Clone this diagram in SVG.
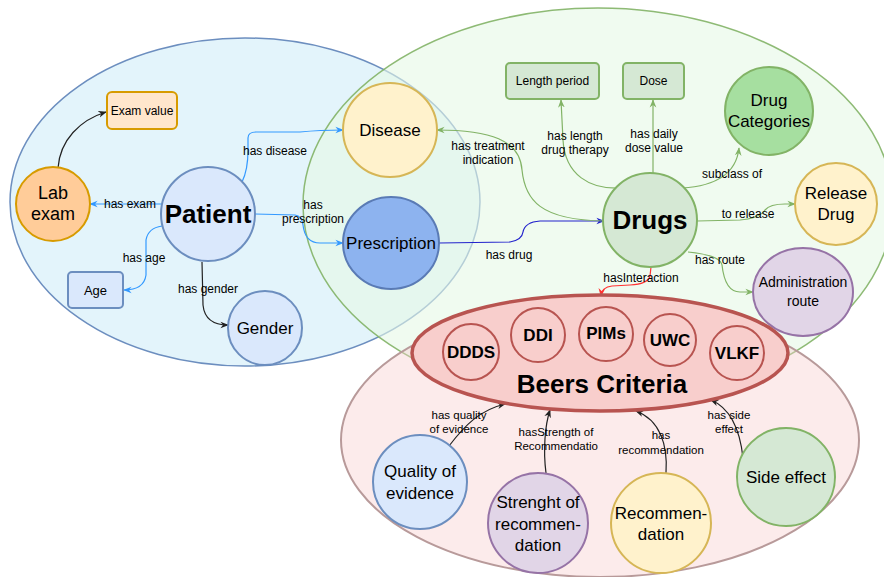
<svg xmlns="http://www.w3.org/2000/svg" width="884" height="577" viewBox="0 0 884 577">
<defs>
<style>
text{font-family:"Liberation Sans",Arial,sans-serif;fill:#000;text-anchor:middle;dominant-baseline:central}
.lbl{font-size:12px}
.sm{font-size:11.5px}
.n17{font-size:17px}
.c{fill:none;stroke-width:1.2}
.blue{stroke:#3399ff}
.green{stroke:#82b366}
.blk{stroke:#222}
.bi{font-weight:bold}
</style>
<marker id="ab" viewBox="0 0 10 10" refX="9" refY="5" markerWidth="7" markerHeight="7" orient="auto"><path d="M0,1 L10,5 L0,9 L3,5 Z" fill="#3399ff"/></marker>
<marker id="ag" viewBox="0 0 10 10" refX="9" refY="5" markerWidth="7" markerHeight="7" orient="auto"><path d="M0,1 L10,5 L0,9 L3,5 Z" fill="#82b366"/></marker>
<marker id="ak" viewBox="0 0 10 10" refX="9" refY="5" markerWidth="7" markerHeight="7" orient="auto"><path d="M0,1 L10,5 L0,9 L3,5 Z" fill="#222"/></marker>
<marker id="ad" viewBox="0 0 10 10" refX="9" refY="5" markerWidth="7" markerHeight="7" orient="auto"><path d="M0,1 L10,5 L0,9 L3,5 Z" fill="#2222cc"/></marker>
<marker id="ar" viewBox="0 0 10 10" refX="9" refY="5" markerWidth="7" markerHeight="7" orient="auto"><path d="M0,1 L10,5 L0,9 L3,5 Z" fill="#ff3333"/></marker>
</defs>
<rect width="884" height="577" fill="#fff"/>

<g id="region-patient"><ellipse cx="245" cy="202" rx="235" ry="164" fill="#e3f4fb" stroke="#6c8ebf" stroke-width="1.5"/></g>
<g id="region-drugs"><ellipse cx="598" cy="205" rx="295" ry="197" fill="#e6f8e6" fill-opacity="0.6" stroke="#82b366" stroke-width="1.5" stroke-opacity="0.9"/></g>
<g id="region-beers"><ellipse cx="600" cy="440" rx="259" ry="137" fill="#f8cecc" fill-opacity="0.4" stroke="#b89a9a" stroke-width="2"/></g>

<g id="connectors">
<path class="c blk" d="M58 168 C60 140 80 120 106 112" marker-end="url(#ak)"/>
<path class="c blue" d="M161 204 L90 204" marker-end="url(#ab)"/>
<path class="c blue" d="M242 182 Q248 170 248 150 L248 138 Q248 132 256 132 L300 132 Q320 130 343 130" marker-end="url(#ab)"/>
<path class="c blue" d="M255 214 L295 215 Q302 216 303 225 Q305 243 320 243 L343 243" marker-end="url(#ab)"/>
<path class="c blue" d="M162 226 Q148 228 146 240 L146 275 Q144 290 124 290" marker-end="url(#ab)"/>
<path class="c blk" d="M202 262 L203 305 Q205 325 228 325" marker-end="url(#ak)"/>
<path class="c" stroke="#2222cc" d="M439 243 L510 242 Q522 240 523 232 Q525 222 540 221 L604 221" marker-end="url(#ad)"/>
<path class="c green" d="M604 221 C540 220 525 200 522 170 C520 140 490 130 437 130" marker-end="url(#ag)"/>
<path class="c green" d="M622 188 C590 190 565 175 563 140 L561 100" marker-end="url(#ag)"/>
<path class="c green" d="M653 173 L653 100" marker-end="url(#ag)"/>
<path class="c green" d="M682 188 Q735 185 739 148" marker-end="url(#ag)"/>
<path class="c green" d="M697 221 L740 220 Q760 218 765 210 Q770 204 785 204 L795 204" marker-end="url(#ag)"/>
<path class="c green" d="M688 252 Q720 255 722 265 Q725 292 740 292 L753 292" marker-end="url(#ag)"/>
<path class="c" stroke="#ff3333" d="M651 267 L650 276 Q648 284 630 285 L612 286 Q602 287 601 296" marker-end="url(#ar)"/>
<path class="c blk" d="M449 446 C465 425 480 410 505 404" marker-end="url(#ak)"/>
<path class="c blk" d="M546 473 C543 450 545 425 550 410" marker-end="url(#ak)"/>
<path class="c blk" d="M666 473 C668 445 660 420 636 411" marker-end="url(#ak)"/>
<path class="c blk" d="M743 458 C740 430 730 408 711 400" marker-end="url(#ak)"/>
<g class="lbl">
<text x="130" y="204">has exam</text>
<text x="275" y="151">has disease</text>
<text x="313" y="205">has</text>
<text x="313" y="219">prescription</text>
<text x="144" y="258">has age</text>
<text x="208" y="289">has gender</text>
<text x="509" y="255">has drug</text>
<text x="488" y="146">has treatment</text>
<text x="488" y="160">indication</text>
<text x="575" y="136">has length</text>
<text x="575" y="150">drug therapy</text>
<text x="654" y="134">has daily</text>
<text x="654" y="148">dose value</text>
<text x="732" y="174">subclass of</text>
<text x="748" y="214">to release</text>
<text x="720" y="260">has route</text>
<text x="641" y="278">hasInteraction</text>
</g>
<g class="sm">
<text x="459" y="415">has quality</text>
<text x="459" y="429">of evidence</text>
<text x="556" y="432">hasStrength of</text>
<text x="556" y="446">Recommendatio</text>
<text x="661" y="435">has</text>
<text x="661" y="450">recommendation</text>
<text x="729" y="415">has side</text>
<text x="729" y="429">effect</text>
</g>
</g>

<g id="exam-value"><rect x="107" y="92" width="70" height="37" rx="5" fill="#ffe6cc" stroke="#d79b00" stroke-width="2"/><text x="142" y="110.5" font-size="12">Exam value</text></g>
<g id="lab-exam"><circle cx="53" cy="204" r="37" fill="#ffcc99" stroke="#d79b00" stroke-width="2"/><text x="53" y="193" font-size="18">Lab</text><text x="53" y="214" font-size="18">exam</text></g>
<g id="patient"><circle cx="208" cy="214" r="47" fill="#dae8fc" stroke="#6c8ebf" stroke-width="2"/><text x="208" y="214" font-size="26" class="bi">Patient</text></g>
<g id="age"><rect x="68" y="272" width="55" height="36" rx="4" fill="#dae8fc" stroke="#6c8ebf" stroke-width="2"/><text x="95.5" y="290" font-size="13">Age</text></g>
<g id="gender"><circle cx="265" cy="328" r="37" fill="#dae8fc" stroke="#6c8ebf" stroke-width="2"/><text x="265" y="328" class="n17">Gender</text></g>
<g id="disease"><circle cx="390" cy="130" r="47" fill="#fff2cc" stroke="#d6b656" stroke-width="2"/><text x="390" y="130" class="n17">Disease</text></g>
<g id="prescription"><ellipse cx="391" cy="243" rx="48" ry="46" fill="#8db3ef" stroke="#5a7bb5" stroke-width="2"/><text x="391" y="243" class="n17">Prescription</text></g>
<g id="length-period"><rect x="506" y="63" width="93" height="36" rx="4" fill="#d5e8d4" stroke="#82b366" stroke-width="2"/><text x="552.5" y="81" font-size="12">Length period</text></g>
<g id="dose"><rect x="623" y="63" width="61" height="36" rx="4" fill="#d5e8d4" stroke="#82b366" stroke-width="2"/><text x="653.5" y="81" font-size="12">Dose</text></g>
<g id="drug-categories"><circle cx="769" cy="111" r="44" fill="#a6dfa0" stroke="#82b366" stroke-width="2"/><text x="769" y="100" class="n17">Drug</text><text x="769" y="121" class="n17">Categories</text></g>
<g id="drugs"><circle cx="650" cy="220" r="47" fill="#d5e8d4" stroke="#82b366" stroke-width="2"/><text x="650" y="220" font-size="26" class="bi">Drugs</text></g>
<g id="release-drug"><circle cx="836" cy="204" r="41" fill="#fff2cc" stroke="#d6b656" stroke-width="2"/><text x="836" y="193" class="n17">Release</text><text x="836" y="214" class="n17">Drug</text></g>
<g id="administration-route"><ellipse cx="803" cy="292" rx="50" ry="44" fill="#e1d5e7" stroke="#9673a6" stroke-width="2"/><text x="803" y="282" font-size="14">Administration</text><text x="803" y="301" font-size="14">route</text></g>

<g id="beers-criteria"><ellipse cx="600" cy="353" rx="188" ry="58" fill="#f8cecc" stroke="#b85450" stroke-width="3.5"/><text x="602" y="384" font-size="26" class="bi">Beers Criteria</text></g>
<g id="ddds"><circle cx="471" cy="352" r="28" fill="#f8cecc" stroke="#b85450" stroke-width="2"/><text x="471" y="352" font-size="17" class="bi">DDDS</text></g>
<g id="ddi"><circle cx="538" cy="335" r="27" fill="#f8cecc" stroke="#b85450" stroke-width="2"/><text x="538" y="335" font-size="17" class="bi">DDI</text></g>
<g id="pims"><circle cx="606" cy="334" r="27" fill="#f8cecc" stroke="#b85450" stroke-width="2"/><text x="606" y="333" font-size="17" class="bi">PIMs</text></g>
<g id="uwc"><circle cx="670" cy="340" r="26" fill="#f8cecc" stroke="#b85450" stroke-width="2"/><text x="670" y="340" font-size="17" class="bi">UWC</text></g>
<g id="vlkf"><circle cx="737" cy="353" r="27" fill="#f8cecc" stroke="#b85450" stroke-width="2"/><text x="737" y="353" font-size="17" class="bi">VLKF</text></g>

<g id="quality-of-evidence"><circle cx="420" cy="482" r="47" fill="#dae8fc" stroke="#6c8ebf" stroke-width="2"/><text x="420" y="471" class="n17">Quality of</text><text x="420" y="493" class="n17">evidence</text></g>
<g id="strength-of-recommendation"><circle cx="538" cy="523" r="50" fill="#e1d5e7" stroke="#9673a6" stroke-width="2"/><text x="538" y="502" class="n17">Strenght of</text><text x="538" y="524" class="n17">recommen-</text><text x="538" y="545" class="n17">dation</text></g>
<g id="recommendation"><circle cx="661" cy="523" r="50" fill="#fff2cc" stroke="#d6b656" stroke-width="2"/><text x="661" y="513" class="n17">Recommen-</text><text x="661" y="534" class="n17">dation</text></g>
<g id="side-effect"><circle cx="786" cy="477" r="49" fill="#d5e8d4" stroke="#82b366" stroke-width="2"/><text x="786" y="477" class="n17">Side effect</text></g>
</svg>
